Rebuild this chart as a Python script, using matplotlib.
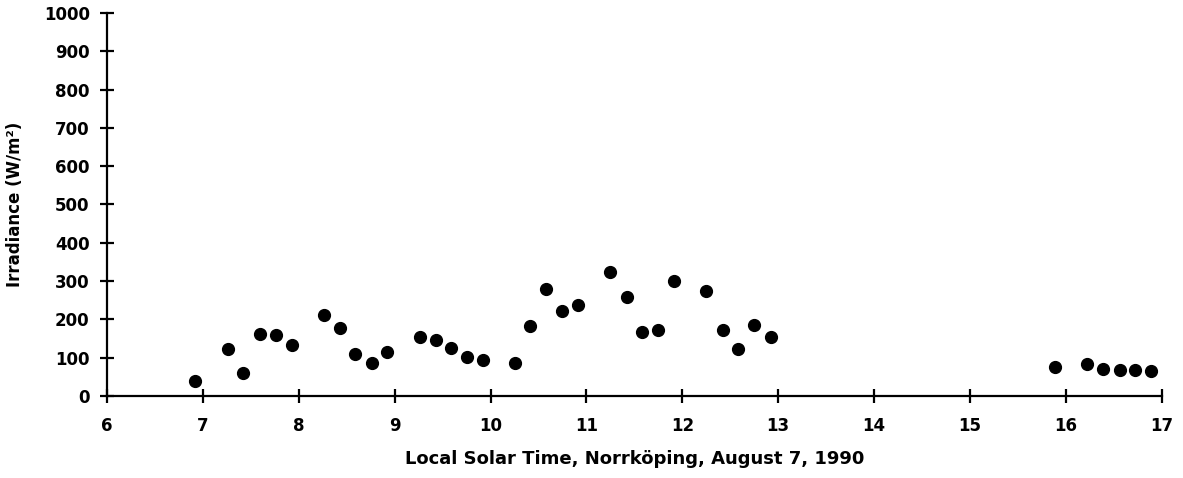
import numpy as np
import matplotlib.pyplot as plt

# Irradiance measurements, Norrkoping 7 Aug 1990
hours = [6.92, 7.26, 7.42, 7.59, 7.76, 7.93, 8.26, 8.43, 8.59, 8.76, 8.92,
         9.26, 9.43, 9.59, 9.75, 9.92, 10.25, 10.41, 10.58, 10.75, 10.91,
         11.25, 11.42, 11.58, 11.75, 11.91, 12.25, 12.42, 12.58, 12.75, 12.92,
         15.89, 16.22, 16.39, 16.56, 16.72, 16.89]
irradiance = [40, 122, 61, 161, 159, 133, 212, 178, 110, 87, 114,
              153, 147, 126, 103, 94, 87, 184, 279, 221, 237,
              323, 258, 167, 172, 301, 273, 172, 124, 186, 153,
              77, 84, 71, 68, 68, 66]

x_ticks = list(range(6, 18))
y_ticks = list(range(0, 1001, 100))

fig = plt.figure(figsize=(11.83, 4.78), dpi=100)
ax = fig.add_axes([0.0905, 0.1715, 0.8915, 0.8015])

ax.plot(hours, irradiance, 'o', color='black', markersize=8.5, clip_on=False)

ax.set_xlim(6, 17)
ax.set_ylim(0, 1000)
ax.set_xticks(x_ticks)
ax.set_yticks(y_ticks)

for s in ['top', 'right']:
    ax.spines[s].set_visible(False)
for s in ['left', 'bottom']:
    ax.spines[s].set_linewidth(1.6)

ax.tick_params(axis='both', direction='inout', length=10, width=1.6,
               labelsize=12, colors='black')
ax.tick_params(axis='y', pad=7.5)
ax.tick_params(axis='x', pad=10)
for lab in ax.get_xticklabels() + ax.get_yticklabels():
    lab.set_fontweight('bold')

ax.set_xlabel('Local Solar Time, Norrköping, August 7, 1990',
              fontsize=13, fontweight='bold', labelpad=11)
ax.set_ylabel('Irradiance (W/m²)', fontsize=12, fontweight='bold', labelpad=14)

fig.savefig('out.png', dpi=100)
